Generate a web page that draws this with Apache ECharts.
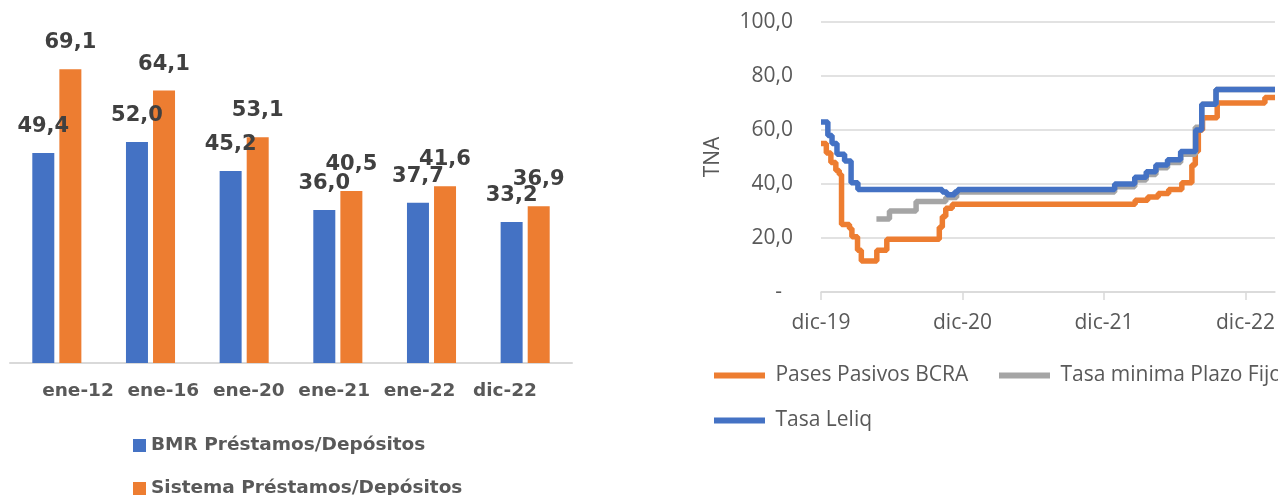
<!DOCTYPE html>
<html>
<head>
<meta charset="utf-8">
<script src="https://cdn.jsdelivr.net/npm/echarts@6.0.0/dist/echarts.min.js"></script>
<style>
    html, body { margin: 0; padding: 0; background: #fff; }
    #main { width: 1278px; height: 495px; }
</style>
</head>
<body>
<div id="main"></div>
<script>
// barras: préstamos / depósitos
var categorias = ['ene-12', 'ene-16', 'ene-20', 'ene-21', 'ene-22', 'dic-22'];
var bmrPrestDep = [49.4, 52.0, 45.2, 36.0, 37.7, 33.2];
var sistemaPrestDep = [69.1, 64.1, 53.1, 40.5, 41.6, 36.9];

// tasas (escalones), fecha de cada cambio y valor TNA
var pasesFechas = ['2019-12-01', '2019-12-15', '2019-12-27', '2020-01-09', '2020-01-18', '2020-01-24',
    '2020-02-13', '2020-02-19', '2020-03-04', '2020-03-14', '2020-04-23', '2020-05-19',
    '2020-10-02', '2020-10-10', '2020-10-19', '2020-11-05', '2022-02-19', '2022-03-23',
    '2022-04-19', '2022-05-16', '2022-06-19', '2022-07-15', '2022-07-24', '2022-08-01',
    '2022-08-12', '2022-09-19', '2023-01-21', '2023-02-15'];
var pasesTasas = [55, 51.5, 48, 45, 43.5, 25, 23.5, 20.5, 15.5, 11.5, 15.5, 19.5,
    24, 28, 31, 32.5, 34, 35.2, 36.5, 38, 40.5, 47, 52, 60, 64.5, 70, 72, 72];

var plazoFijoFechas = ['2020-04-22', '2020-05-26', '2020-08-03', '2020-10-19', '2020-11-16',
    '2021-12-29', '2022-02-18', '2022-03-19', '2022-04-13', '2022-05-13', '2022-06-16',
    '2022-07-24', '2022-08-10', '2022-09-16', '2023-02-15'];
var plazoFijoTasas = [27, 30, 33.5, 35, 37, 39, 41.5, 43.5, 46, 48, 51, 61, 69.5, 75, 75];

var leliqFechas = ['2019-12-01', '2019-12-19', '2019-12-30', '2020-01-12', '2020-02-01', '2020-02-17',
    '2020-03-05', '2020-10-10', '2020-10-22', '2020-11-11', '2020-11-19', '2021-12-29',
    '2022-02-18', '2022-03-19', '2022-04-13', '2022-05-13', '2022-06-16', '2022-07-25',
    '2022-08-10', '2022-09-16', '2023-02-15'];
var leliqTasas = [63, 58, 55, 51, 48.5, 40.5, 38, 37, 36, 37, 38, 40,
    42.5, 44.5, 47, 49, 52, 60, 69.5, 75, 75];

var ticksEje = [0, 12, 24, 36];
var etiquetasEje = ['dic-19', 'dic-20', 'dic-21', 'dic-22'];

// meses desde dic-19 (para el eje)
function mesDesdeDic19(fecha) {
    var p = fecha.split('-');
    var anio = +p[0], mes = +p[1], dia = +p[2];
    var diasMes = new Date(anio, mes, 0).getDate();
    return (anio - 2019) * 12 + (mes - 12) + (dia - 1) / diasMes;
}
function armarSerie(fechas, valores) {
    return fechas.map(function (f, i) { return [mesDesdeDic19(f), valores[i]]; });
}
function coma(v) { return v.toFixed(1).replace('.', ','); }

var fuenteBarras = "'DejaVu Sans', sans-serif";
var fuenteLineas = "'Open Sans', 'Noto Sans', sans-serif";

var leyendaLinea = {
    icon: 'rect', itemWidth: 51, itemHeight: 6, width: 500, padding: 0, formatter: ' {name}',
    textStyle: {fontFamily: fuenteLineas, fontSize: 21, color: '#595959'}
};

var myChart = echarts.init(document.getElementById('main'));

var option = {
    animation: false,
    grid: [
        {left: 10, top: 23, width: 562, height: 340},
        {left: 35.3, top: 23, width: 512.4, height: 340},
        {left: 821, top: 22, right: 0, height: 270}
    ],
    legend: [
        {
            data: ['BMR Préstamos/Depósitos', 'Sistema Préstamos/Depósitos'],
            orient: 'vertical', left: 133, top: 436, height: 100, itemGap: 24, padding: 0,
            itemWidth: 13, itemHeight: 13, icon: 'rect',
            textStyle: {fontFamily: fuenteBarras, fontWeight: 'bold', fontSize: 18.5, color: '#595959'}
        },
        Object.assign({data: ['Pases Pasivos BCRA'], left: 714, top: 365}, leyendaLinea),
        Object.assign({data: ['Tasa minima Plazo Fijo'], left: 999, top: 365}, leyendaLinea),
        Object.assign({data: ['Tasa Leliq'], left: 714, top: 410}, leyendaLinea)
    ],
    xAxis: [
        {
            type: 'category', gridIndex: 0, data: categorias,
            axisLine: {lineStyle: {color: '#D9D9D9', width: 2}},
            axisTick: {show: false}, axisLabel: {show: false}
        },
        {
            // solo las etiquetas de categoría
            type: 'category', gridIndex: 1, data: categorias,
            axisLine: {show: false}, axisTick: {show: false},
            axisLabel: {interval: 0, margin: 19, fontFamily: fuenteBarras, fontWeight: 'bold', fontSize: 18.5, color: '#595959'}
        },
        {
            type: 'value', gridIndex: 2, min: 0, max: 38.5, interval: 12,
            splitLine: {show: false},
            axisLine: {lineStyle: {color: '#D9D9D9', width: 1.5}},
            axisTick: {show: true, length: 8, customValues: ticksEje, lineStyle: {color: '#D9D9D9', width: 1.5}},
            axisLabel: {
                customValues: ticksEje, margin: 21,
                fontFamily: fuenteLineas, fontSize: 21, color: '#595959',
                formatter: function (v) {
                    var i = ticksEje.indexOf(Math.round(v));
                    return i >= 0 ? etiquetasEje[i] : '';
                }
            }
        }
    ],
    yAxis: [
        {type: 'value', gridIndex: 0, min: 0, max: 80, show: false},
        {type: 'value', gridIndex: 1, min: 0, max: 80, show: false},
        {
            type: 'value', gridIndex: 2, min: 0, max: 100, interval: 20,
            name: 'TNA', nameLocation: 'middle', nameGap: 97,
            nameTextStyle: {fontFamily: fuenteLineas, fontSize: 21, color: '#595959'},
            axisLine: {show: false}, axisTick: {show: false},
            splitLine: {lineStyle: {color: '#D9D9D9', width: 1.5}},
            axisLabel: {
                margin: 28, fontFamily: fuenteLineas, fontSize: 21, color: '#595959',
                formatter: function (v) { return v === 0 ? '-  ' : coma(v); }
            }
        }
    ],
    series: [
        {
            name: 'BMR Préstamos/Depósitos', type: 'bar', xAxisIndex: 0, yAxisIndex: 0,
            data: bmrPrestDep, barWidth: 22, barGap: '23%',
            itemStyle: {color: '#4472C4'},
            label: {
                show: true, position: 'top', distance: 16,
                fontFamily: fuenteBarras, fontWeight: 'bold', fontSize: 21, color: '#404040',
                formatter: function (p) { return coma(p.value); }
            }
        },
        {
            name: 'Sistema Préstamos/Depósitos', type: 'bar', xAxisIndex: 0, yAxisIndex: 0,
            data: sistemaPrestDep, barWidth: 22, barGap: '23%',
            itemStyle: {color: '#ED7D31'},
            label: {
                show: true, position: 'top', distance: 16,
                fontFamily: fuenteBarras, fontWeight: 'bold', fontSize: 21, color: '#404040',
                formatter: function (p) { return coma(p.value); }
            }
        },
        {
            name: 'Pases Pasivos BCRA', type: 'line', xAxisIndex: 2, yAxisIndex: 2,
            step: 'end', symbol: 'none', data: armarSerie(pasesFechas, pasesTasas),
            itemStyle: {color: '#ED7D31'}, lineStyle: {color: '#ED7D31', width: 5.5}
        },
        {
            name: 'Tasa minima Plazo Fijo', type: 'line', xAxisIndex: 2, yAxisIndex: 2,
            step: 'end', symbol: 'none', data: armarSerie(plazoFijoFechas, plazoFijoTasas),
            itemStyle: {color: '#A5A5A5'}, lineStyle: {color: '#A5A5A5', width: 5.5}
        },
        {
            name: 'Tasa Leliq', type: 'line', xAxisIndex: 2, yAxisIndex: 2,
            step: 'end', symbol: 'none', data: armarSerie(leliqFechas, leliqTasas),
            itemStyle: {color: '#4472C4'}, lineStyle: {color: '#4472C4', width: 5.5}
        }
    ]
};

myChart.setOption(option);
</script>
</body>
</html>
